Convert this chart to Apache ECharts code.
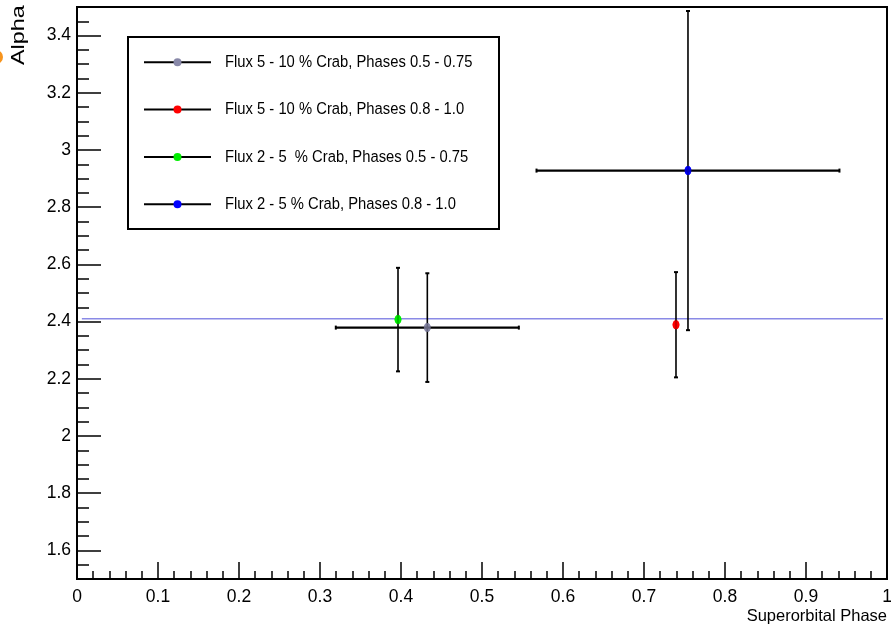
<!DOCTYPE html>
<html>
<head>
<meta charset="utf-8">
<script src="https://cdn.jsdelivr.net/npm/echarts@6/dist/echarts.min.js"></script>
<style>
html,body{margin:0;padding:0;background:#fff;}
#chart{width:891px;height:627px;}
</style>
</head>
<body>
<div id="chart"></div>
<script>
// ---- data ----
const seriesNames = [
  'Flux 5 - 10 % Crab, Phases 0.5 - 0.75',
  'Flux 5 - 10 % Crab, Phases 0.8 - 1.0',
  'Flux 2 - 5  % Crab, Phases 0.5 - 0.75',
  'Flux 2 - 5 % Crab, Phases 0.8 - 1.0'
];
const seriesColors = ['#8888a8', '#ff0000', '#00ee00', '#0000ff'];
const phase    = [0.4325, 0.7395, 0.3963, 0.7543];
const alpha    = [2.379, 2.389, 2.407, 2.928];
const phaseErr = [0.113, 0, 0, 0.187];
const alphaErr = [0.19, 0.184, 0.181, 0.558];
const refAlpha = 2.41;
const refRange = [0.006, 0.995];
const xTitle = 'Superorbital Phase';
const yTitle = 'Alpha';
const yMajorTicks = [1.6, 1.8, 2.0, 2.2, 2.4, 2.6, 2.8, 3.0, 3.2, 3.4];

const FONT = "'Liberation Sans', Arial, sans-serif";

const chart = echarts.init(document.getElementById('chart'), null, {renderer: 'canvas'});

function errRender(params, api) {
  const x = api.value(0), y = api.value(1), ex = api.value(2), ey = api.value(3);
  const color = seriesColors[api.value(4)];
  const c = api.coord([x, y]);
  const t = api.coord([x, y + ey]);
  const b = api.coord([x, y - ey]);
  const children = [];
  const vs = {stroke: '#000', lineWidth: 1.6};
  const hs = {stroke: '#000', lineWidth: 2.2};
  children.push({type: 'ellipse', shape: {cx: c[0], cy: c[1], rx: 3.4, ry: 4.5}, style: {fill: color}});
  children.push({type: 'line', shape: {x1: t[0], y1: t[1], x2: b[0], y2: b[1]}, style: vs});
  children.push({type: 'line', shape: {x1: t[0] - 2, y1: t[1], x2: t[0] + 2, y2: t[1]}, style: {stroke: '#000', lineWidth: 2}});
  children.push({type: 'line', shape: {x1: b[0] - 2, y1: b[1], x2: b[0] + 2, y2: b[1]}, style: {stroke: '#000', lineWidth: 2}});
  if (ex > 0) {
    const l = api.coord([x - ex, y]);
    const r = api.coord([x + ex, y]);
    children.push({type: 'line', shape: {x1: l[0], y1: l[1], x2: r[0], y2: r[1]}, style: hs});
    children.push({type: 'line', shape: {x1: l[0], y1: l[1] - 2, x2: l[0], y2: l[1] + 2}, style: {stroke: '#000', lineWidth: 2}});
    children.push({type: 'line', shape: {x1: r[0], y1: r[1] - 2, x2: r[0], y2: r[1] + 2}, style: {stroke: '#000', lineWidth: 2}});
  }
  // marker drawn again semi-transparent on top so it reads through the bars
  children.push({type: 'ellipse', shape: {cx: c[0], cy: c[1], rx: 3.4, ry: 4.5}, style: {fill: color, opacity: 0.75}});
  return {type: 'group', children: children};
}

const series = [{
  type: 'line',
  name: 'ref',
  data: [[refRange[0], refAlpha], [refRange[1], refAlpha]],
  symbol: 'none',
  lineStyle: {color: '#8a8ae6', width: 1.5},
  silent: true,
  z: 1
}];
seriesNames.forEach((n, i) => {
  series.push({
    type: 'custom',
    name: n,
    renderItem: errRender,
    data: [[phase[i], alpha[i], phaseErr[i], alphaErr[i], i]],
    encode: {x: 0, y: 1},
    z: 3
  });
});

// legend built from series names/colors
const legX0 = 128, legY0 = 37, legW = 371, legH = 192;
const legendEls = [{
  type: 'rect', shape: {x: legX0, y: legY0, width: legW, height: legH},
  style: {fill: '#fff', stroke: '#000', lineWidth: 2}, z: 10
}];
seriesNames.forEach((n, i) => {
  const cy = 62.3 + i * 47.3;
  legendEls.push({type: 'line', shape: {x1: 144, y1: cy, x2: 211, y2: cy}, style: {stroke: '#000', lineWidth: 2}, z: 11});
  legendEls.push({type: 'circle', shape: {cx: 177.5, cy: cy, r: 4}, style: {fill: seriesColors[i]}, z: 12});
  legendEls.push({type: 'text', x: 225, y: cy, scaleX: 0.886,
    style: {text: n, font: "16.7px " + FONT, fill: '#000', align: 'left', verticalAlign: 'middle'}, z: 12});
});

const option = {
  animation: false,
  backgroundColor: '#fff',
  grid: {left: 77, right: 4, top: 7, bottom: 48, show: true, borderColor: '#000', borderWidth: 2,
         backgroundColor: 'transparent', outerBoundsMode: 'none', containLabel: false},
  xAxis: {
    type: 'value', min: 0, max: 1, interval: 0.1,
    name: xTitle, nameLocation: 'end', nameGap: 0,
    nameTextStyle: {fontFamily: FONT, fontSize: 16.5, color: '#000', align: 'right', verticalAlign: 'top', padding: [29, 0, 0, 0]},
    axisLine: {show: true, lineStyle: {color: '#000', width: 2}},
    axisTick: {show: true, inside: true, length: 17, lineStyle: {color: '#000', width: 1.5}},
    minorTick: {show: true, splitNumber: 5, length: 8, lineStyle: {color: '#000', width: 1.5}},
    axisLabel: {fontFamily: FONT, fontSize: 17.5, color: '#000', margin: 9},
    splitLine: {show: false}
  },
  yAxis: [{
    type: 'value', min: 1.5, max: 3.5, interval: 0.05, position: 'left',
    axisLine: {show: true, lineStyle: {color: '#000', width: 2}},
    axisTick: {show: true, inside: true, length: 12, lineStyle: {color: '#000', width: 1.5}},
    axisLabel: {show: false},
    splitLine: {show: false}
  }, {
    type: 'value', min: 1.5, max: 3.5, position: 'left', offset: 0,
    axisLine: {show: false},
    axisTick: {show: true, inside: true, length: 24, customValues: yMajorTicks, lineStyle: {color: '#000', width: 1.5}},
    axisLabel: {show: true, customValues: yMajorTicks, fontFamily: FONT, fontSize: 17.5, color: '#000', margin: 6,
      formatter: v => String(Number(v.toFixed(1)))},
    splitLine: {show: false}
  }],
  series: series,
  graphic: [
    {type: 'circle', shape: {cx: -4, cy: 57, r: 7}, style: {fill: '#f7941d'}},
    {type: 'text', x: 19, y: 65, rotation: Math.PI / 2, scaleX: 1.3,
     style: {text: yTitle, font: "18px 'Liberation Sans', Arial, sans-serif", fill: '#000', align: 'left', verticalAlign: 'middle'}},
    ...legendEls
  ]
};
chart.setOption(option);
</script>
</body>
</html>
